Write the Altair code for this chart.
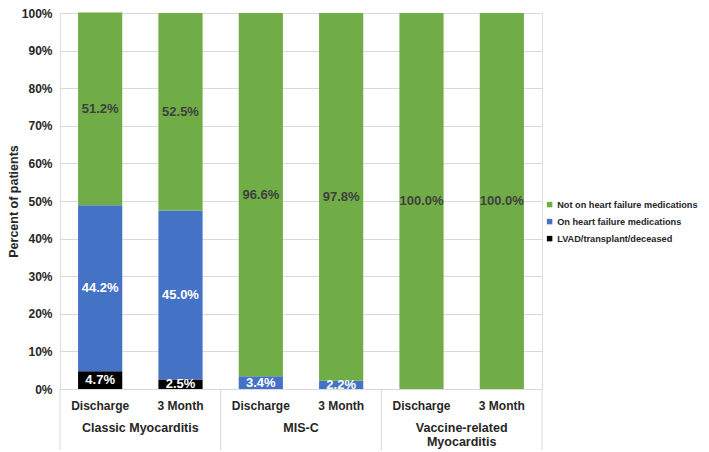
import altair as alt
import pandas as pd

# ---- data ----
groups = ["Classic Myocarditis", "Classic Myocarditis", "MIS-C", "MIS-C",
          "Vaccine-related Myocarditis", "Vaccine-related Myocarditis"]
timepoints = ["Discharge", "3 Month", "Discharge", "3 Month", "Discharge", "3 Month"]
lvad = [4.7, 2.5, 0.0, 0.0, 0.0, 0.0]
on_meds = [44.2, 45.0, 3.4, 2.2, 0.0, 0.0]
not_on_meds = [51.2, 52.5, 96.6, 97.8, 100.0, 100.0]

series_names = ["Not on heart failure medications", "On heart failure medications",
                "LVAD/transplant/deceased"]
series_colors = ["#70AD47", "#4472C4", "#000000"]

group_line1 = ["Classic Myocarditis", "MIS-C", "Vaccine-related"]
group_line2 = ["", "", "Myocarditis"]
group_first_key = ["Classic Myocarditis|Discharge", "MIS-C|Discharge",
                   "Vaccine-related Myocarditis|Discharge"]
boundary_left_keys = ["Classic Myocarditis|Discharge", "MIS-C|Discharge",
                      "Vaccine-related Myocarditis|Discharge"]
boundary_right_keys = ["Vaccine-related Myocarditis|3 Month"]

keys = [g + "|" + t for g, t in zip(groups, timepoints)]

rows = []
for k, g, t, a, b, c in zip(keys, groups, timepoints, lvad, on_meds, not_on_meds):
    for s, v, o in [(series_names[2], a, 0), (series_names[1], b, 1), (series_names[0], c, 2)]:
        rows.append(dict(key=k, group=g, time=t, series=s, value=v, order=o))
df = pd.DataFrame(rows)

FONT = "Arial"
TXT = "#262626"
W, H = 482, 376
STEP = W / 6.0

x_scale = alt.Scale(domain=keys, paddingInner=0.45, paddingOuter=0.225)
x_axis = alt.Axis(title=None, labelExpr="split(datum.label, '|')[1]", domain=False,
                  ticks=False, labelAngle=0, labelPadding=11, labelFontSize=12,
                  labelFontWeight="bold", labelColor=TXT, labelFont=FONT, grid=False)
y_scale = alt.Scale(domain=[0, 100], nice=False)
y_axis = alt.Axis(title="Percent of patients", values=list(range(0, 101, 10)),
                  labelExpr="datum.value + '%'", domain=False, ticks=False,
                  gridColor="#d9d9d9", labelPadding=8, labelFontSize=12,
                  labelFontWeight="bold", labelColor=TXT, labelFont=FONT,
                  titleFontSize=12.5, titleFontWeight="bold", titleColor=TXT,
                  titleFont=FONT, titlePadding=1)

X = alt.X("key:N", scale=x_scale, axis=x_axis, sort=keys)

bars = alt.Chart(df).mark_bar().encode(
    x=X,
    y=alt.Y("value:Q", stack="zero", scale=y_scale, axis=y_axis),
    color=alt.Color("series:N",
                    scale=alt.Scale(domain=series_names, range=series_colors),
                    legend=alt.Legend(title=None, orient="none", legendX=485, legendY=187,
                                      symbolType="square", symbolSize=30,
                                      symbolStrokeWidth=0, labelLimit=400,
                                      labelFontSize=9.2, labelFontWeight="bold",
                                      labelColor=TXT, labelFont=FONT, rowPadding=7,
                                      labelOffset=3)),
    order=alt.Order("order:Q"),
)

labels_base = alt.Chart(df).transform_stack(
    stack="value", as_=["y0", "y1"], groupby=["key"], sort=[alt.SortField("order")]
).transform_calculate(
    mid="(datum.y0 + datum.y1) / 2",
    label="format(datum.value, '.1f') + '%'",
).transform_filter("datum.value > 0")

labels_light = labels_base.transform_filter(
    alt.datum.series != series_names[0]
).mark_text(font=FONT, fontSize=13, fontWeight="bold", color="white").encode(
    x=X, y=alt.Y("mid:Q", scale=y_scale, axis=y_axis), text="label:N")

labels_dark = labels_base.transform_filter(
    alt.datum.series == series_names[0]
).mark_text(font=FONT, fontSize=13, fontWeight="bold", color="#404040").encode(
    x=X, y=alt.Y("mid:Q", scale=y_scale, axis=y_axis), text="label:N")

gdf = pd.DataFrame({"key": group_first_key, "l1": group_line1, "l2": group_line2})
group1 = alt.Chart(gdf).mark_text(font=FONT, fontSize=12.5, fontWeight="bold", color=TXT,
                                  dx=STEP / 2).encode(
    x=X, y=alt.value(H + 39), text="l1:N")
group2 = alt.Chart(gdf).mark_text(font=FONT, fontSize=12.5, fontWeight="bold", color=TXT,
                                  dx=STEP / 2).encode(
    x=X, y=alt.value(H + 53), text="l2:N")

sep_left = alt.Chart(pd.DataFrame({"key": boundary_left_keys})).mark_rule(
    color="#d9d9d9", xOffset=-STEP / 2).encode(x=X, y=alt.value(H), y2=alt.value(H + 61))
sep_right = alt.Chart(pd.DataFrame({"key": boundary_right_keys})).mark_rule(
    color="#d9d9d9", xOffset=STEP / 2).encode(x=X, y=alt.value(H), y2=alt.value(H + 61))

chart = alt.layer(bars, labels_light, labels_dark, sep_left, sep_right, group1, group2).properties(
    width=W, height=H,
    autosize=alt.AutoSizeParams(type="none"),
    padding={"left": 52, "top": 5, "right": 159, "bottom": 61},
).configure_view(stroke=None).configure(background="white")

chart.save("out.html", embed_options={"renderer": "svg", "actions": False})
